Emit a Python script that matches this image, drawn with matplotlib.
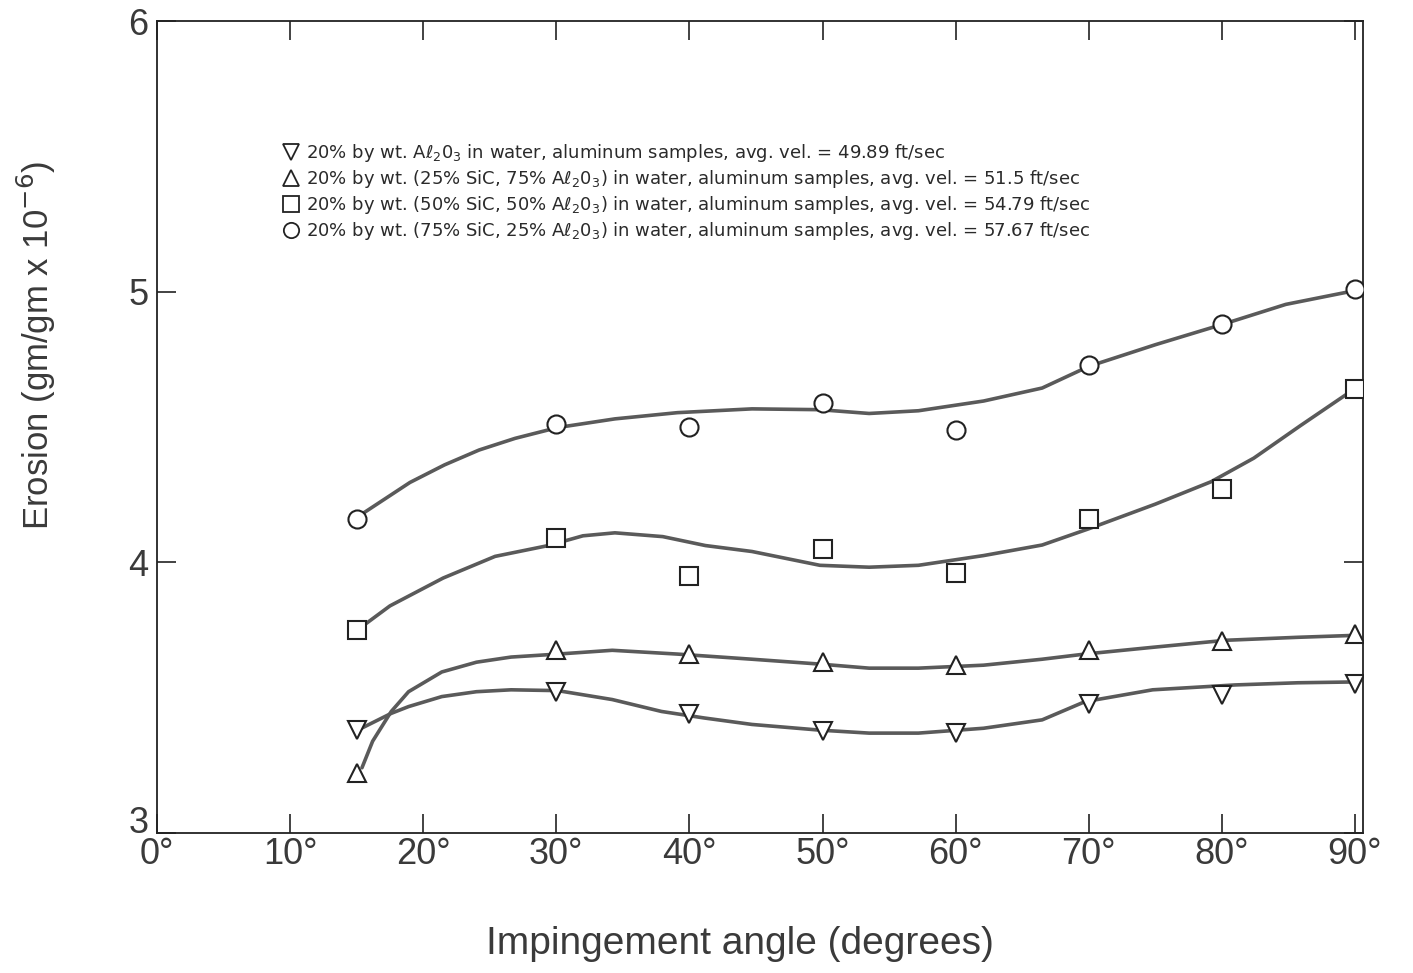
import numpy as np
import matplotlib
matplotlib.use("Agg")
import matplotlib.pyplot as plt
import matplotlib.transforms as mtransforms
from matplotlib.lines import Line2D

# measured points (impingement angle in degrees, erosion in gm/gm x 1e-6)
angles = [15, 30, 40, 50, 60, 70, 80, 90]
ero_al2o3 = [3.38, 3.52, 3.44, 3.375, 3.37, 3.475, 3.51, 3.55]
ero_25sic = [3.22, 3.675, 3.66, 3.63, 3.62, 3.675, 3.71, 3.735]
ero_50sic = [3.75, 4.09, 3.95, 4.05, 3.96, 4.16, 4.27, 4.64]
ero_75sic = [4.16, 4.51, 4.50, 4.59, 4.49, 4.73, 4.88, 5.01]

# hand-drawn fitted curves
cx_al2o3 = [15.2, 17.6, 18.9, 21.4, 24.0, 26.6, 30.1, 34.2, 37.9, 41.1, 44.7, 49.8,
            53.5, 57.2, 62.1, 66.5, 69.7, 74.8, 81.0, 85.7, 89.9]
cy_al2o3 = [3.383, 3.442, 3.467, 3.504, 3.522, 3.529, 3.526, 3.493, 3.449, 3.425, 3.401, 3.380,
            3.369, 3.369, 3.387, 3.418, 3.485, 3.529, 3.547, 3.555, 3.558]

cx_25sic = [15.4, 16.2, 17.6, 18.9, 21.4, 24.0, 26.6, 30.1, 34.2, 39.1, 44.7, 49.8,
            53.5, 57.2, 62.1, 66.5, 69.7, 74.8, 80.3, 85.7, 89.9]
cy_25sic = [3.241, 3.339, 3.449, 3.522, 3.595, 3.631, 3.650, 3.661, 3.675, 3.661, 3.642, 3.624,
            3.609, 3.609, 3.620, 3.642, 3.661, 3.686, 3.712, 3.723, 3.730]

cx_50sic = [15.0, 17.5, 21.5, 25.4, 29.4, 32.0, 34.4, 38.0, 41.2, 44.7, 49.8,
            53.5, 57.2, 62.1, 66.5, 70.0, 75.0, 79.2, 82.4, 85.9, 89.4, 90.0]
cy_50sic = [3.748, 3.839, 3.942, 4.022, 4.062, 4.098, 4.109, 4.095, 4.062, 4.040, 3.989,
            3.982, 3.989, 4.025, 4.064, 4.124, 4.215, 4.298, 4.385, 4.505, 4.622, 4.640]

cx_75sic = [15.0, 15.6, 19.0, 21.6, 24.2, 26.9, 30.1, 34.4, 39.1, 44.7, 49.8,
            53.5, 57.2, 62.1, 66.5, 70.0, 75.0, 80.1, 84.8, 90.0]
cy_75sic = [4.160, 4.185, 4.295, 4.360, 4.415, 4.458, 4.498, 4.530, 4.553, 4.567, 4.564,
            4.550, 4.560, 4.596, 4.644, 4.724, 4.804, 4.880, 4.953, 5.004]

xticks = [0, 10, 20, 30, 40, 50, 60, 70, 80, 90]
xticklabels = [f"{t}°" for t in xticks]
yticks = [3, 4, 5, 6]

legend_labels = [
    r"20% by wt. A$\ell_2$0$_3$ in water, aluminum samples, avg. vel. = 49.89 ft/sec",
    r"20% by wt. (25% SiC, 75% A$\ell_2$0$_3$) in water, aluminum samples, avg. vel. = 51.5 ft/sec",
    r"20% by wt. (50% SiC, 50% A$\ell_2$0$_3$) in water, aluminum samples, avg. vel. = 54.79 ft/sec",
    r"20% by wt. (75% SiC, 25% A$\ell_2$0$_3$) in water, aluminum samples, avg. vel. = 57.67 ft/sec",
]

plt.rcParams["font.family"] = ["Liberation Sans", "DejaVu Sans"]

line_col = "#5a5a5a"
ink = "#222222"
txt = "#3a3a3a"

fig = plt.figure(figsize=(14.13, 9.73), dpi=100)
ax = fig.add_axes([0.1111, 0.1439, 0.8535, 0.8345])

series = [
    (cx_al2o3, cy_al2o3, ero_al2o3, "v"),
    (cx_25sic, cy_25sic, ero_25sic, "^"),
    (cx_50sic, cy_50sic, ero_50sic, "s"),
    (cx_75sic, cy_75sic, ero_75sic, "o"),
]
for cx, cy, ys, mk in series:
    ax.plot(cx, cy, color=line_col, lw=2.6, solid_capstyle="round",
            solid_joinstyle="round", zorder=2)
    ax.plot(angles, ys, linestyle="none", marker=mk, markersize=13,
            markerfacecolor="white", markeredgecolor=ink, markeredgewidth=1.5, zorder=3)

ax.set_xlim(0, 90.6)
ax.set_ylim(3, 6)
ax.set_xticks(xticks)
ax.set_xticklabels(xticklabels)
ax.set_yticks(yticks)
ax.tick_params(axis="both", direction="in", length=14, width=1.2, color=ink,
               top=True, right=True, labelsize=26, labelcolor=txt)
ax.tick_params(axis="x", pad=3)
ax.tick_params(axis="y", pad=6)
for s in ax.spines.values():
    s.set_linewidth(1.3)
    s.set_color(ink)

# the "3" sits a little above the corner in the original
lab3 = ax.get_yticklabels()[0]
lab3.set_transform(lab3.get_transform() +
                   mtransforms.ScaledTranslation(0, 10 / 72, fig.dpi_scale_trans))

ax.set_xlabel("Impingement angle (degrees)", fontsize=28, color=txt)
ax.xaxis.set_label_coords(0.483, -0.115)
ax.set_ylabel(r"Erosion (gm/gm x 10$^{-6}$)", fontsize=25, color=txt)
ax.yaxis.set_label_coords(-0.082, 0.601)

handles = [Line2D([], [], linestyle="none", marker=mk, markersize=11,
                  markerfacecolor="white", markeredgecolor=ink, markeredgewidth=1.3)
           for _, _, _, mk in series]
leg = ax.legend(handles, legend_labels, loc="upper left", bbox_to_anchor=(0.098, 0.86),
                frameon=False, prop={"family": "DejaVu Sans", "size": 13},
                handletextpad=0.3, labelspacing=0.22, handlelength=1.0, borderaxespad=0)
for t in leg.get_texts():
    t.set_color("#2a2a2a")

fig.savefig("out.png", dpi=100)
